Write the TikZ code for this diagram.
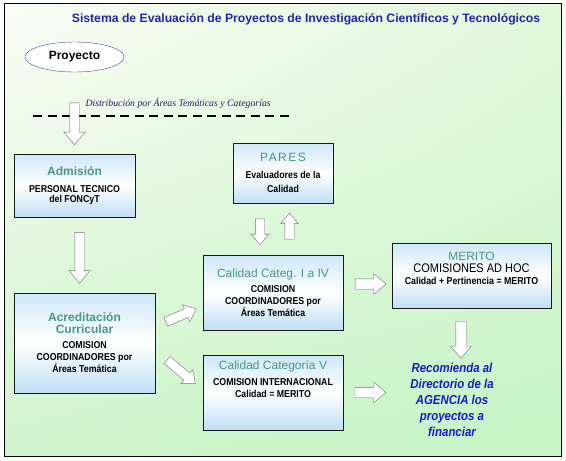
\documentclass[tikz,border=0pt]{standalone}
\usepackage{fontspec}
\setmainfont{Liberation Sans}
\newfontfamily\narrowfont{Liberation Sans}[FakeStretch=0.88]
\newfontfamily\distfont{Liberation Serif}
\usetikzlibrary{shapes.geometric,shapes.arrows,positioning,calc,shadings}

\definecolor{titleblue}{RGB}{35,35,175}
\definecolor{headteal}{RGB}{75,150,135}
\definecolor{recblue}{RGB}{25,25,200}
\definecolor{distblue}{RGB}{30,30,110}
\definecolor{boxtop}{RGB}{206,231,247}
\definecolor{boxbot}{RGB}{192,222,244}
\definecolor{bgul}{RGB}{250,253,246}
\definecolor{bgur}{RGB}{226,248,220}
\definecolor{bgll}{RGB}{208,244,204}
\definecolor{bglr}{RGB}{198,244,196}

\newcommand\hd[1]{{\normalfont\color{headteal}\fontsize{12}{14}\selectfont #1}}

\begin{document}
\begin{tikzpicture}[x=1pt,y=1pt,
  box/.style={draw=black!90,line width=0.7pt,top color=boxtop,bottom color=boxbot,middle color=white,
              align=center,inner sep=0pt,font=\narrowfont\bfseries\fontsize{10}{12}\selectfont},
  harr/.style={single arrow,draw=black!55,fill=white,inner sep=0pt,text height=9pt,
               single arrow tip angle=80,single arrow head extend=6pt},
  darr/.style={harr,rotate=-90},
  uarr/.style={harr,rotate=90}
]
\useasboundingbox (0,0) rectangle (566,-461);
\shade[upper left=bgul,upper right=bgur,lower left=bgll,lower right=bglr] (4,-3) rectangle (561,-456);
\draw[line width=0.8pt] (4,-3) rectangle (561,-456);

% title and project
\node[font=\bfseries\fontsize{12.2}{14}\selectfont,text=titleblue] (title) at (306,-19)
  {Sistema de Evaluación de Proyectos de Investigación Científicos y Tecnológicos};
\node[ellipse,draw=blue!40!black!70,fill=white,minimum width=99,minimum height=30,
      font=\bfseries\fontsize{12}{14}\selectfont] (pro) at (74.5,-57) {Proyecto};
\node[anchor=west,font=\distfont\itshape\fontsize{9.8}{11}\selectfont,text=distblue] (dist)
  at (82,-103) {Distribución por Áreas Temáticas y Categorías};
\coordinate (dl) at (33,-116);
\coordinate (dr) at (291,-116);
\draw[line width=2.5pt,dash pattern=on 9pt off 5.5pt] (dl) -- (dr);

% boxes
\node[box,minimum width=121,minimum height=63] (adm) at (74.5,-185.5)
  {\hd{\bfseries Admisión}\\[5pt] PERSONAL TECNICO\\[-2pt] del FONCyT};
\node[box,minimum width=141,minimum height=100] (acr) at (84.5,-343)
  {\hd{\bfseries Acreditación}\\\hd{\bfseries Curricular}\\[3pt] COMISION\\COORDINADORES por\\Áreas Temática};
\node[box,minimum width=100,minimum height=60] (pares) at (283,-173)
  {\hd{\addfontfeature{LetterSpace=12}PARES}\\[5pt] Evaluadores de la\\[2pt] Calidad};
\node[box,minimum width=140,minimum height=75] (cal) at (273,-292.5)
  {\hd{Calidad Categ. I a IV}\\[3pt] COMISION\\COORDINADORES por\\Áreas Temática};
\node[box,minimum width=140,minimum height=75,text depth=27pt] (calv) at (273,-392.5)
  {\hd{Calidad Categoría V}\\[4pt] COMISION INTERNACIONAL\\Calidad = MERITO};
\node[box,minimum width=159,minimum height=65,text depth=15pt] (mer) at (471.5,-275.5)
  {\hd{MERITO}\\{\mdseries\fontsize{12.5}{14}\selectfont COMISIONES AD HOC}\\ Calidad + Pertinencia = MERITO};
\node[align=center,text=recblue,font=\narrowfont\bfseries\itshape\fontsize{13}{16}\selectfont] (rec)
  at (452,-400) {Recomienda al\\Directorio de la\\AGENCIA los\\proyectos a\\financiar};

% hollow arrows
\node[darr,minimum height=42] (a1) at ($(pro.south)!0.6!(adm.north)$) {};
\node[darr,minimum height=51] (a2) at ($(adm.south)!0.5!(acr.north)$) {};
\node[darr,minimum height=26,single arrow head extend=4pt] (a3)
  at ($(pares.south)!0.5!(cal.north)+(-18,0)$) {};
\node[uarr,minimum height=26,single arrow head extend=4pt] (a4)
  at ($(pares.south)!0.5!(cal.north)+(11.5,0)$) {};
\node[harr,minimum height=31,text height=10pt,single arrow head extend=5pt] (a5)
  at ($(cal.east)!0.5!(mer.west)$) {};
\node[darr,minimum height=37,text height=10pt,single arrow head extend=5pt] (a6)
  at ($(mer.south)+(-10.5,-28.5)$) {};
\node[harr,minimum height=31,text height=10pt,single arrow head extend=5pt] (a7)
  at ($(calv.east)+(24,0)$) {};
\node[harr,minimum height=33,single arrow head extend=4.5pt,rotate=23] (a8) at (178.5,-316.5) {};
\node[harr,minimum height=37,single arrow head extend=4.5pt,rotate=-40] (a9) at (179,-370) {};
\end{tikzpicture}
\end{document}
